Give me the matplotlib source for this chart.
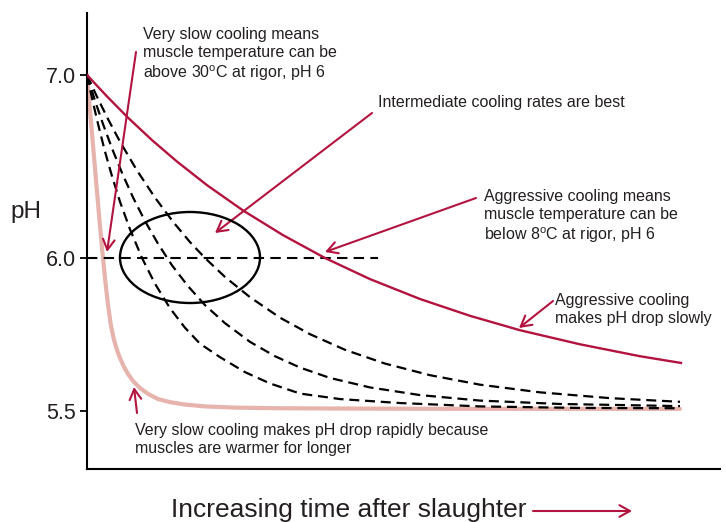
import numpy as np
import matplotlib
matplotlib.use("Agg")
import matplotlib.pyplot as plt
from matplotlib.patches import Ellipse

plt.rcParams['font.family'] = ['Liberation Sans', 'DejaVu Sans']

# ---------------- data (time in arbitrary units, pH) ----------------
rigor_ph = 6.0

t_aggressive = [0, 3.16, 6.32, 10.27, 14.22, 18.96, 24.64, 30.96, 37.60, 44.71,
                52.61, 60.51, 68.40, 77.88, 87.36, 93.84]
ph_aggressive = [7.0, 6.883, 6.772, 6.644, 6.527, 6.398, 6.260, 6.125, 6.000, 5.931,
                 5.866, 5.811, 5.764, 5.718, 5.679, 5.657]

t_very_slow = [0, 0.47, 0.95, 1.42, 1.90, 2.37, 2.84, 3.32, 3.79, 4.27, 4.74, 5.21,
               5.85, 6.48, 7.27, 8.37, 9.64, 11.22, 13.11, 15.48, 18.64, 23.38,
               30.49, 41.55, 57.35, 93.68]
ph_very_slow = [7.0, 6.809, 6.617, 6.426, 6.235, 6.055, 5.935, 5.846, 5.778, 5.732,
                5.699, 5.673, 5.644, 5.621, 5.598, 5.575, 5.556, 5.539, 5.529, 5.521,
                5.515, 5.511, 5.509, 5.508, 5.507, 5.507]

t_mid1 = [0, 0.95, 1.90, 2.84, 3.95, 5.21, 6.79, 8.69, 10.74, 13.11, 15.48, 17.85,
          21.01, 24.96, 28.91, 33.65, 39.97, 49.45, 62.09, 77.88, 93.68]
ph_mid1 = [7.0, 6.849, 6.710, 6.582, 6.447, 6.308, 6.157, 6.000, 5.916, 5.836, 5.772,
           5.720, 5.676, 5.627, 5.590, 5.557, 5.539, 5.526, 5.515, 5.510, 5.509]

t_mid2 = [0, 1.26, 2.53, 3.95, 5.53, 7.27, 9.16, 11.22, 13.43, 15.96, 18.64, 21.80,
          25.75, 29.70, 33.65, 38.39, 44.71, 52.61, 62.09, 74.72, 93.68]
ph_mid2 = [7.0, 6.860, 6.732, 6.599, 6.465, 6.331, 6.202, 6.078, 5.976, 5.908, 5.846,
           5.787, 5.726, 5.679, 5.642, 5.608, 5.577, 5.552, 5.534, 5.523, 5.516]

t_mid3 = [0, 1.58, 3.32, 5.21, 7.90, 10.74, 13.59, 16.27, 18.64, 21.80, 25.75, 30.49,
          35.23, 40.76, 47.08, 54.19, 62.09, 71.56, 82.62, 93.68]
ph_mid3 = [7.0, 6.881, 6.759, 6.636, 6.478, 6.330, 6.198, 6.087, 6.000, 5.938, 5.872,
           5.805, 5.751, 5.700, 5.655, 5.617, 5.586, 5.561, 5.542, 5.530]

yticks = [5.5, 6.0, 7.0]
ytick_labels = ['5.5', '6.0', '7.0']
rigor_line_t = [0, 46]

# ---------------- styling ----------------
RED = '#b3133f'
PINK = '#e7b3ad'
TXT = '#231f20'
W, H = 726, 522

fig = plt.figure(figsize=(W / 100, H / 100), dpi=100)
ax = fig.add_axes([87 / W, 1 - 469 / H, 633 / W, 456 / H])

# piecewise-linear y scale (upper pH range compressed as in the original)
UP, LO = 183.0, 306.0
def fwd(p):
    p = np.asarray(p, dtype=float)
    return np.where(p >= 6.0, (p - 6.0) * UP, (p - 6.0) * LO)
def inv(v):
    v = np.asarray(v, dtype=float)
    return np.where(v >= 0, 6.0 + v / UP, 6.0 + v / LO)
ax.set_yscale('function', functions=(fwd, inv))
ax.set_xlim(0, 100)
ax.set_ylim(6.0 - 211 / LO, 6.0 + 245 / UP)

dash = (0, (4.5, 2.6))
ax.plot(t_very_slow, ph_very_slow, color=PINK, lw=3.0, solid_capstyle='round',
        solid_joinstyle='round', zorder=2)
for tt, pp in [(t_mid1, ph_mid1), (t_mid2, ph_mid2), (t_mid3, ph_mid3)]:
    ax.plot(tt, pp, color='black', lw=1.6, linestyle=dash, zorder=3)
ax.plot(t_aggressive, ph_aggressive, color=RED, lw=1.7, zorder=4)
ax.plot(rigor_line_t, [rigor_ph, rigor_ph], color='black', lw=1.5,
        linestyle=(0, (5, 3)), zorder=3)

ell = Ellipse((0.1627, 0.4638), 0.2212, 0.1996, transform=ax.transAxes,
              fill=False, edgecolor='black', lw=1.7, zorder=5)
ax.add_patch(ell)

# axes styling
for s in ['top', 'right']:
    ax.spines[s].set_visible(False)
for s in ['left', 'bottom']:
    ax.spines[s].set_linewidth(1.5)
ax.set_xticks([])
ax.set_yticks(yticks)
ax.set_yticklabels(ytick_labels)
ax.minorticks_off()
ax.tick_params(axis='y', length=5, width=1.3, pad=3, labelsize=15.5, labelcolor=TXT)

ax.set_ylabel('pH', rotation=0, fontsize=17.5, color=TXT, ha='center', va='center')
ax.yaxis.set_label_coords((26 - 87) / 633, (469 - 212) / 456)
ax.set_xlabel('Increasing time after slaughter', fontsize=19, color=TXT,
              ha='center', va='center')
ax.xaxis.set_label_coords((349 - 87) / 633, (469 - 510) / 456)

def P(x, y):
    return (x, H - y)

fs = 11.5
texts = [
    ((143, 55), 'Very slow cooling means\nmuscle temperature can be\nabove 30$^\\mathregular{o}$C at rigor, pH 6'),
    ((378, 103), 'Intermediate cooling rates are best'),
    ((484, 217), 'Aggressive cooling means\nmuscle temperature can be\nbelow 8$^\\mathregular{o}$C at rigor, pH 6'),
    ((555, 310), 'Aggressive cooling\nmakes pH drop slowly'),
    ((135, 440), 'Very slow cooling makes pH drop rapidly because\nmuscles are warmer for longer'),
]
for (x, y), s in texts:
    fig.text(x / W, 1 - y / H, s, fontsize=fs, color=TXT, ha='left', va='center',
             linespacing=1.25)

arrows = [
    ((136, 52), (107, 252)),
    ((372, 113), (215, 233)),
    ((476, 198), (325, 252)),
    ((553, 301), (519, 328)),
    ((137, 413), (134, 387)),
    ((533, 511), (632, 511)),
]
for tail, head in arrows:
    ax.annotate('', xy=P(*head), xycoords='figure pixels',
                xytext=P(*tail), textcoords='figure pixels',
                arrowprops=dict(arrowstyle='->,head_length=0.75,head_width=0.42',
                                color=RED, lw=1.5, shrinkA=0, shrinkB=0),
                annotation_clip=False)

fig.savefig('out.png', dpi=100)
